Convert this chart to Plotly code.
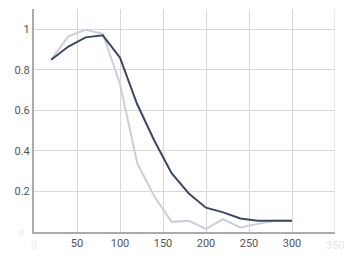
import plotly.graph_objects as go

x_vals = [20, 40, 60, 80, 100, 120, 140, 160, 180, 200, 220, 240, 260, 280, 300]
dark_series = [0.85, 0.915, 0.96, 0.97, 0.86, 0.63, 0.45, 0.29, 0.19, 0.12, 0.097, 0.067, 0.056, 0.056, 0.056]
light_series = [0.85, 0.965, 0.997, 0.978, 0.73, 0.34, 0.175, 0.05, 0.055, 0.015, 0.063, 0.022, 0.04, 0.055, 0.056]
x_ticks = [50, 100, 150, 200, 250, 300]
y_ticks = [0.2, 0.4, 0.6, 0.8, 1]
y_tick_text = ["0.2", "0.4", "0.6", "0.8", "1"]

fig = go.Figure()
fig.add_trace(go.Scatter(x=x_vals, y=light_series, mode="lines",
                         line=dict(color="#c9cfdc", width=2), showlegend=False))
fig.add_trace(go.Scatter(x=x_vals, y=dark_series, mode="lines",
                         line=dict(color="#3b4862", width=2), showlegend=False))

fig.update_layout(
    width=348, height=262,
    margin=dict(l=34, r=13, t=9, b=30),
    paper_bgcolor="white", plot_bgcolor="white",
    font=dict(family="Roboto", size=11, color="#555"),
    xaxis=dict(range=[0, 350], tickvals=x_ticks, ticktext=[str(v) for v in x_ticks],
               showgrid=True, gridcolor="#d8d8d8", gridwidth=1,
               showline=True, linecolor="#aaaaaa", linewidth=2,
               zeroline=False, ticks="", ticklen=0, tickfont=dict(size=11, color="#555")),
    yaxis=dict(range=[0, 1.1], tickvals=y_ticks, ticktext=y_tick_text,
               showgrid=True, gridcolor="#d8d8d8", gridwidth=1,
               showline=True, linecolor="#aaaaaa", linewidth=2,
               zeroline=False, ticks="", ticklen=0, tickfont=dict(size=11, color="#555")),
)
# extra vertical gridline at 350 (right edge)
fig.add_shape(type="line", xref="x", yref="paper", x0=350, x1=350, y0=0, y1=1,
              line=dict(color="#d8d8d8", width=1))
# faded end labels
fig.add_annotation(x=0, y=0, xref="x", yref="y", text="0", showarrow=False,
                   xanchor="right", xshift=-8, font=dict(size=8, color="#e4e4e4"))
fig.add_annotation(x=0, y=0, xref="x", yref="y", text="0", showarrow=False,
                   yanchor="top", yshift=-5, font=dict(size=11, color="#eeeeee"))
fig.add_annotation(x=350, y=0, xref="x", yref="y", text="350", showarrow=False,
                   yanchor="top", yshift=-5, font=dict(size=11, color="#e6e6e6"))

fig.write_html("out.html")
